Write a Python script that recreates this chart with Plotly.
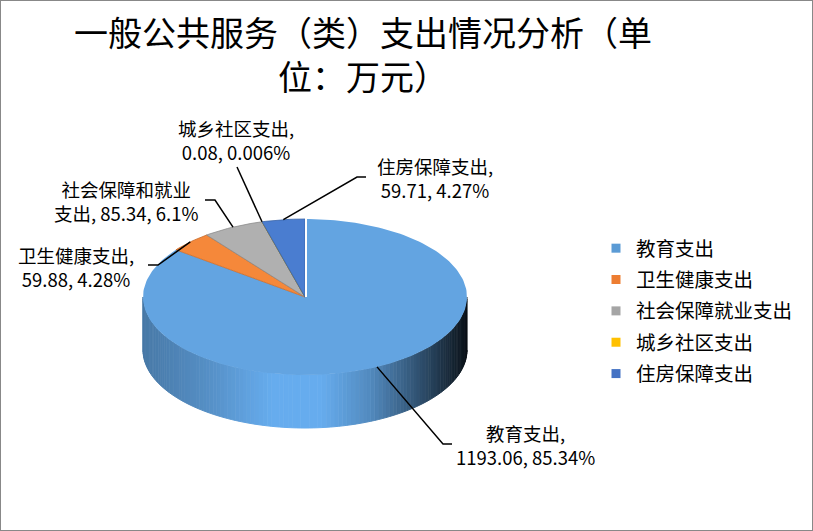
import numpy as np
import plotly.graph_objects as go

# data
categories = ["教育支出", "卫生健康支出", "社会保障和就业支出", "城乡社区支出", "住房保障支出"]
legend_names = ["教育支出", "卫生健康支出", "社会保障就业支出", "城乡社区支出", "住房保障支出"]
values = [1193.06, 59.88, 85.34, 0.08, 59.71]
percent_labels = ["85.34%", "4.28%", "6.1%", "0.006%", "4.27%"]
title = "一般公共服务（类）支出情况分析（单<br>位：万元）"

# styling
legend_colors = ["#5B9BD5", "#ED7D31", "#A5A5A5", "#FFC000", "#4472C4"]
top_colors = ["#63A4E1", "#F5883A", "#B0B0B0", "#FFC000", "#4A7DD0"]
edge_colors = [None, "#C86A28", "#8C8C8C", "#B08A1A", "#3A64A8"]
side_rgb = [(97, 163, 225), (237, 125, 49), (165, 165, 165), (255, 192, 0), (68, 114, 196)]
FONT = "Noto Sans CJK SC"

W, H = 813, 531
cx, cy = 305, 297          # centre of top face (pixels)
rx, ry = 162, 78           # radii of top ellipse
depth = 53                 # thickness of the pie

total = sum(values)
fracs = [v / total for v in values]
bounds = np.concatenate([[0], np.cumsum(fracs)]) * 360.0  # degrees clockwise from 12 o'clock


def ell(deg, dy=0.0):
    a = np.radians(deg)
    return cx + rx * np.sin(a), cy - ry * np.cos(a) + dy


def slice_of(deg):
    for i in range(len(values)):
        if bounds[i] <= deg <= bounds[i + 1]:
            return i
    return 0


# label layout (text centre, leader elbow points) in pixels
label_text = [
    f"{categories[0]},<br>{values[0]:.2f}, {percent_labels[0]}",
    f"{categories[1]},<br>{values[1]:.2f}, {percent_labels[1]}",
    f"社会保障和就业<br>支出, {values[2]:.2f}, {percent_labels[2]}",
    f"{categories[3]},<br>{values[3]:.2f}, {percent_labels[3]}",
    f"{categories[4]},<br>{values[4]:.2f}, {percent_labels[4]}",
]
label_pos = [(525, 445), (76, 267), (126, 201), (236, 140), (435, 178)]
leader_pts = [
    [(443, 444), (452, 444)],
    [(158, 265), (148, 265)],
    [(215, 200), (205, 200)],
    [(237, 167)],
    [(357, 177), (366, 177)],
]

fig = go.Figure()

# side wall of the pie (front half), shaded strips
u_knots = [-1, -0.6, -0.2, 0.1, 0.4, 0.6, 0.8, 0.93, 1]
f_knots = [0.74, 0.88, 1.06, 1.06, 0.85, 0.62, 0.38, 0.2, 0.1]
n_strips = 120
edges = np.linspace(90, 270, n_strips + 1)
for k in range(n_strips):
    a0, a1 = edges[k], edges[k + 1]
    mid = (a0 + a1) / 2
    idx = slice_of(mid)
    f = np.interp(np.sin(np.radians(mid)), u_knots, f_knots)
    r, g, b = [int(min(255, c * f)) for c in side_rgb[idx]]
    col = f"rgb({r},{g},{b})"
    arc = np.linspace(a0, a1, 4)
    xt, yt = ell(arc)
    xb, yb = ell(arc[::-1], depth)
    fig.add_trace(go.Scatter(
        x=np.concatenate([xt, xb]), y=np.concatenate([yt, yb]),
        mode="lines", fill="toself", fillcolor=col,
        line=dict(color=col, width=1), hoverinfo="skip", showlegend=False,
    ))

# top faces
for i, name in enumerate(categories):
    a0, a1 = bounds[i], bounds[i + 1]
    arc = np.linspace(a0, a1, max(3, int((a1 - a0) / 1.5) + 2))
    xs, ys = ell(arc)
    xs = np.concatenate([[cx], xs, [cx]])
    ys = np.concatenate([[cy], ys, [cy]])
    if edge_colors[i] is None:
        line = dict(width=0)
    else:
        line = dict(color=edge_colors[i], width=0.8)
    fig.add_trace(go.Scatter(
        x=xs, y=ys, mode="lines", fill="toself", fillcolor=top_colors[i],
        line=line, hoverinfo="skip", showlegend=False,
    ))

# thin white seam at the start of the first slice
sx, sy = ell(bounds[0])
fig.add_trace(go.Scatter(x=[cx + 1, sx + 1], y=[cy, sy], mode="lines",
                         line=dict(color="white", width=2), hoverinfo="skip", showlegend=False))

# leader lines
for i in range(len(values)):
    mid = (bounds[i] + bounds[i + 1]) / 2
    ax, ay = ell(mid)
    pts = [(ax, ay)] + leader_pts[i]
    fig.add_trace(go.Scatter(
        x=[p[0] for p in pts], y=[p[1] for p in pts], mode="lines",
        line=dict(color="black", width=1.5), hoverinfo="skip", showlegend=False,
    ))

# data labels
for txt, (lx, ly) in zip(label_text, label_pos):
    fig.add_annotation(x=lx, y=ly, text=txt, showarrow=False, xanchor="center", yanchor="middle",
                       align="center", font=dict(family=FONT, size=18.5, color="black"))

# legend entries
for i, name in enumerate(legend_names):
    fig.add_trace(go.Scatter(
        x=[None], y=[None], mode="markers", name=name, legendgroup=name,
        marker=dict(symbol="square", size=9, color=legend_colors[i]),
    ))

fig.add_annotation(x=363, y=53, text=title, showarrow=False, xanchor="center", yanchor="middle",
                   align="center", font=dict(family=FONT, size=34, color="black"))

fig.add_shape(type="rect", xref="paper", yref="paper", x0=0, y0=0, x1=1, y1=1,
              line=dict(color="#888888", width=2))

fig.update_xaxes(range=[0, W], visible=False, fixedrange=True)
fig.update_yaxes(range=[H, 0], visible=False, fixedrange=True)

fig.update_layout(
    width=W, height=H,
    margin=dict(l=0, r=0, t=0, b=0),
    paper_bgcolor="white", plot_bgcolor="white",
    font=dict(family=FONT),
    legend=dict(x=596 / W, y=1 - 229 / H, xanchor="left", yanchor="top",
                font=dict(family=FONT, size=19.5, color="black"),
                tracegroupgap=3, itemwidth=30, bgcolor="rgba(0,0,0,0)"),
)

fig.write_html("out.html", config={"displayModeBar": False},
               post_script="document.body.style.margin='0';")
